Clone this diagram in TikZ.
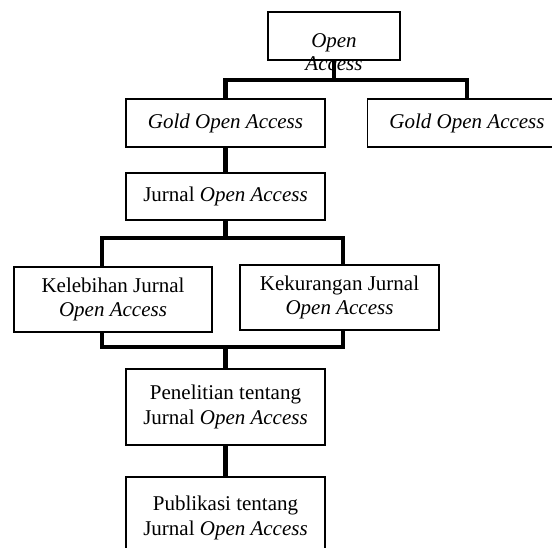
\documentclass[tikz,border=0pt]{standalone}
\usepackage{fontspec}
\setmainfont{Liberation Serif}
\usetikzlibrary{calc}

\tikzset{
  kotak/.style={draw, line width=1.3pt, minimum height=48pt, minimum width=199pt,
    align=center, inner sep=0pt, font=\fontsize{21}{24.5}\selectfont},
  garis/.style={line width=4.5pt}
}

\begin{document}
\begin{tikzpicture}[x=1pt,y=-1pt]
        \useasboundingbox (0,0) rectangle (552,548);
        % kotak-kotak
        \node[kotak, minimum width=132pt] (oa) at (334,36) {};
        \node[align=center, inner sep=0pt, font=\fontsize{21}{23}\selectfont] (oatext) at (334,52)
            {\textit{Open}\\\textit{Access}};
        \node[kotak] (gold1) at (225.5,123) {\textit{Gold Open Access}};
        \node[kotak] (gold2) at (467,123) {\textit{Gold Open Access}};
        \node[kotak, minimum height=47pt] (jurnal) at (225.5,196.5) {Jurnal \textit{Open Access}};
        \node[kotak, minimum width=198pt, minimum height=65pt] (kel) at (113,299.5)
            {Kelebihan Jurnal\\\textit{Open Access}};
        \node[kotak, minimum height=65pt] (kek) at (339.5,297.5)
            {Kekurangan Jurnal\\\textit{Open Access}};
        \node[kotak, minimum height=76pt] (pen) at (225.5,407)
            {Penelitian tentang\\Jurnal \textit{Open Access}};
        \node[kotak, minimum height=82pt] (pub) at (225.5,518)
            {Publikasi tentang\\Jurnal \textit{Open Access}};
        % garis penghubung
        \coordinate (bar1) at (334,80);
        \coordinate (bar2) at (225.5,238);
        \coordinate (bar3) at (225.5,347);
        \draw[garis] (oa.south) -- (bar1);
        \draw[garis] (gold1.north) |- (bar1) -| (gold2.north);
        \draw[garis] (gold1.south) -- (jurnal.north);
        \draw[garis] (jurnal.south) -- (bar2);
        \draw[garis] ([xshift=-11pt]kel.north) |- (bar2) -| ([xshift=3.5pt]kek.north);
        \draw[garis] ([xshift=-11pt]kel.south) |- (bar3) -| ([xshift=3.5pt]kek.south);
        \draw[garis] (bar3) -- (pen.north);
        \draw[garis] (pen.south) -- (pub.north);
    \end{tikzpicture}
\end{document}
